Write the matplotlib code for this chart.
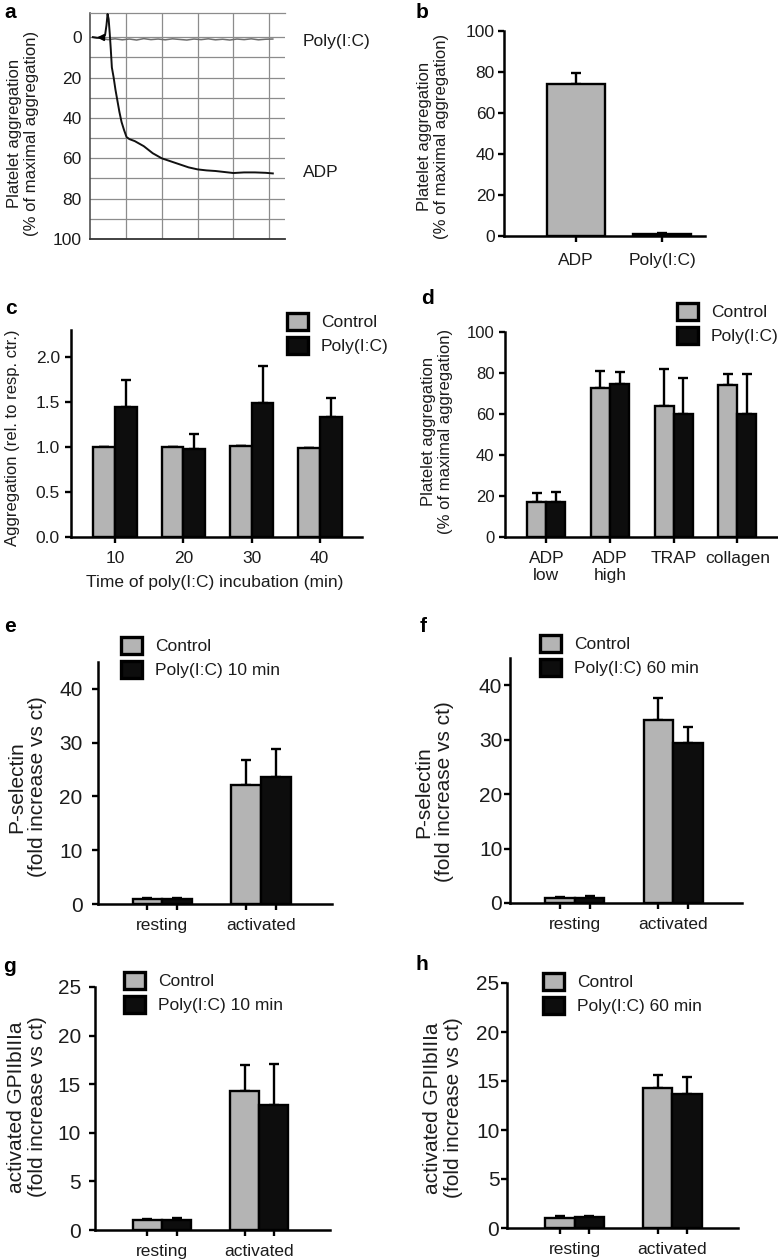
import matplotlib
matplotlib.use("Agg")
import matplotlib.pyplot as plt
import matplotlib.patches as mpatches
import numpy as np

plt.rcParams['font.family'] = ['Liberation Sans', 'DejaVu Sans']

W, H = 778, 1260
GREY = '#b4b4b4'
BLACK = '#0d0d0d'
TXT = '#1c1c1c'

# --- a: aggregation traces (time in grid units, % aggregation)
adp_t = [0.08, 0.2, 0.36, 0.42, 0.46, 0.49, 0.52, 0.55, 0.58, 0.61, 0.66, 0.71, 0.76, 0.82,
         0.88, 0.95, 1.02, 1.1, 1.25, 1.5, 1.75, 2.0, 2.25, 2.5, 2.75, 3.0, 3.25, 3.5, 3.75,
         4.0, 4.3, 4.6, 4.9, 5.1]
adp_v = [0, 0.3, 0, -1, -6, -11.5, -9, -2, 6, 15, 20, 26, 31, 37,
         42, 46, 49.5, 50.5, 51.5, 54, 57.5, 60, 61.5, 63, 64.5, 65.5, 66, 66.3, 66.8,
         67.3, 67, 67, 67.2, 67.5]
poly_t = [0.08, 0.3, 0.5, 0.7, 0.9, 1.1, 1.3, 1.5, 1.7, 1.9, 2.1, 2.3, 2.5, 2.7, 2.9,
          3.1, 3.3, 3.5, 3.7, 3.9, 4.1, 4.3, 4.5, 4.7, 4.9, 5.1]
poly_v = [0, 0.5, 1.2, 0.8, 1.3, 0.9, 1.4, 0.7, 1.2, 0.9, 1.3, 0.8, 1.1, 1.4, 0.9,
          1.2, 0.8, 1.3, 1.0, 1.4, 0.9, 1.2, 0.8, 1.3, 1.0, 0.9]

# --- b
b_labels = ['ADP', 'Poly(I:C)']
b_mean = [74, 1]
b_err = [5.3, 0.6]

# --- c
c_labels = ['10', '20', '30', '40']
c_ctrl = [1.0, 1.0, 1.01, 0.99]
c_ctrl_err = [0, 0, 0, 0]
c_poly = [1.44, 0.98, 1.49, 1.33]
c_poly_err = [0.30, 0.17, 0.41, 0.21]

# --- d
d_labels = ['ADP\nlow', 'ADP\nhigh', 'TRAP', 'collagen']
d_ctrl = [17, 72.8, 63.7, 74.3]
d_ctrl_err = [4.5, 8.2, 18.3, 5.0]
d_poly = [17, 74.8, 60, 60]
d_poly_err = [5, 5.7, 17.7, 19.7]

# --- e-h
state_labels = ['resting', 'activated']
e_ctrl, e_ctrl_err = [0.9, 22.2], [0.2, 4.5]
e_poly, e_poly_err = [1.0, 23.6], [0.2, 5.2]
f_ctrl, f_ctrl_err = [0.9, 33.6], [0.2, 4.1]
f_poly, f_poly_err = [1.0, 29.4], [0.2, 3.0]
g_ctrl, g_ctrl_err = [1.0, 14.3], [0.15, 2.7]
g_poly, g_poly_err = [1.05, 12.85], [0.15, 4.25]
h_ctrl, h_ctrl_err = [1.05, 14.3], [0.15, 1.35]
h_poly, h_poly_err = [1.1, 13.7], [0.1, 1.7]
pselectin_ticks = [0, 10, 20, 30, 40]
gp_ticks = [0, 5, 10, 15, 20, 25]

fig = plt.figure(figsize=(W / 100, H / 100), dpi=100)


def fx(x):
    return x / W


def fy(y):
    return 1 - y / H


def add_ax(l, t, r, b):
    return fig.add_axes([fx(l), fy(b), (r - l) / W, (b - t) / H])


def ylabel(x, y, s, size):
    fig.text(fx(x), fy(y), s, rotation=90, ha='center', va='center', fontsize=size,
             color=TXT, linespacing=1.15, multialignment='center')


def letter(x, y, s):
    fig.text(fx(x), fy(y), s, ha='center', va='center', fontsize=15, fontweight='bold', color='k')


def style_bar_ax(ax, ysize, ypad):
    ax.spines[['top', 'right']].set_visible(False)
    for s in ('left', 'bottom'):
        ax.spines[s].set_linewidth(1.8)
        ax.spines[s].set_color('k')
    ax.tick_params(axis='y', width=1.7, length=4, labelsize=ysize, pad=ypad, labelcolor=TXT)
    ax.tick_params(axis='x', width=1.7, length=4, labelsize=12.5, pad=6, labelcolor=TXT)


def legend(ax, x, y, poly_label):
    handles = [mpatches.Patch(facecolor=GREY, edgecolor='k', linewidth=2.4, label='Control'),
               mpatches.Patch(facecolor=BLACK, edgecolor='k', linewidth=2.4, label=poly_label)]
    ax.legend(handles=handles, loc='upper left', bbox_to_anchor=(fx(x), fy(y)),
              bbox_transform=fig.transFigure, frameon=False, fontsize=12.5, borderpad=0,
              borderaxespad=0, handlelength=1.2, handleheight=1.15, labelspacing=0.36,
              handletextpad=0.75, labelcolor=TXT)


def grouped(ax, ctrl, ctrl_err, poly, poly_err, w):
    x = np.arange(len(ctrl))
    ax.bar(x - w / 2, ctrl, w, color=GREY, edgecolor='k', linewidth=1.7, zorder=2)
    ax.bar(x + w / 2, poly, w, color=BLACK, edgecolor='k', linewidth=1.7, zorder=2)
    ax.errorbar(x - w / 2, ctrl, yerr=[np.zeros(len(ctrl)), ctrl_err], fmt='none', ecolor='k',
                elinewidth=1.7, capsize=3.5, capthick=1.7, zorder=1)
    ax.errorbar(x + w / 2, poly, yerr=[np.zeros(len(poly)), poly_err], fmt='none', ecolor='k',
                elinewidth=1.7, capsize=3.5, capthick=1.7, zorder=1)
    return x


# ---------------- a
ax = add_ax(90, 13, 285, 239)
ax.set_xlim(0, 5.44)
ax.set_ylim(100, -12)
for v in range(0, 100, 10):
    ax.axhline(v, color='#8c8c8c', lw=0.9, zorder=0)
for t in range(1, 6):
    ax.axvline(t, color='#8c8c8c', lw=0.9, zorder=0)
ax.plot(poly_t, poly_v, color='#6e6e6e', lw=1.1, zorder=2)
ax.plot(adp_t, adp_v, color='#111111', lw=1.4, zorder=3)
ax.plot(0.3, 0, marker='<', ms=5, color='k', zorder=4)
ax.spines['right'].set_visible(False)
ax.spines['top'].set_color('#8c8c8c')
ax.spines['top'].set_linewidth(0.9)
ax.spines['left'].set_color('#444444')
ax.spines['left'].set_linewidth(1.1)
ax.spines['bottom'].set_color('#333333')
ax.spines['bottom'].set_linewidth(1.3)
ax.set_yticks(range(0, 101, 20))
ax.set_xticks([])
ax.tick_params(axis='y', length=0, pad=6, labelsize=12.5, labelcolor=TXT)
ax.text(5.94, 2, 'Poly(I:C)', fontsize=12.5, color=TXT, va='center', ha='left')
ax.text(5.94, 67, 'ADP', fontsize=12.5, color=TXT, va='center', ha='left')
ylabel(23, 133, 'Platelet aggregation\n(% of maximal aggregation)', 12)
letter(10, 12, 'a')

# ---------------- b
ax = add_ax(504, 31, 705, 236)
style_bar_ax(ax, 12.5, 2.5)
xb = np.arange(len(b_mean))
ax.bar(xb, b_mean, 0.67, color=[GREY, BLACK], edgecolor='k', linewidth=1.7, zorder=2)
ax.errorbar(xb, b_mean, yerr=[np.zeros(2), b_err], fmt='none', ecolor='k', elinewidth=1.7,
            capsize=3.5, capthick=1.7, zorder=1)
ax.set_xlim(-0.84, 1.5)
ax.set_ylim(0, 100)
ax.set_yticks(range(0, 101, 20))
ax.set_xticks(xb, b_labels)
ax.tick_params(axis='x', pad=8, labelsize=12.5)
ylabel(433, 136, 'Platelet aggregation\n(% of maximal aggregation)', 12)
letter(422, 13, 'b')

# ---------------- c
ax = add_ax(71, 330, 362, 537)
style_bar_ax(ax, 12.5, 4)
xc = grouped(ax, c_ctrl, c_ctrl_err, c_poly, c_poly_err, 0.32)
ax.set_xlim(-0.65, 3.62)
ax.set_ylim(0, 2.3)
ax.set_yticks([0, 0.5, 1.0, 1.5, 2.0], ['0.0', '0.5', '1.0', '1.5', '2.0'])
ax.set_xticks(xc, c_labels)
ax.tick_params(axis='x', labelsize=12.5)
legend(ax, 287, 313, 'Poly(I:C)')
ylabel(13, 438, 'Aggregation (rel. to resp. ctr.)', 12)
fig.text(fx(215), fy(583), 'Time of poly(I:C) incubation (min)', ha='center', va='center',
         fontsize=12.5, color=TXT)
letter(11, 308, 'c')

# ---------------- d
ax = add_ax(505, 332, 778, 537)
style_bar_ax(ax, 12, 3.5)
xd = grouped(ax, d_ctrl, d_ctrl_err, d_poly, d_poly_err, 0.30)
ax.set_xlim(-0.65, 3.64)
ax.set_ylim(0, 100)
ax.set_yticks(range(0, 101, 20))
ax.set_xticks(xd, d_labels)
ax.tick_params(axis='x', labelsize=12.5)
legend(ax, 677, 303, 'Poly(I:C)')
ylabel(437, 431, 'Platelet aggregation\n(% of maximal aggregation)', 12)
letter(427, 299, 'd')


# ---------------- e-h
def state_panel(rect, ctrl, ctrl_err, poly, poly_err, ymax, yticks, ypad, xlim, leg_xy, poly_label):
    ax = add_ax(*rect)
    style_bar_ax(ax, 15, ypad)
    x = grouped(ax, ctrl, ctrl_err, poly, poly_err, 0.30)
    ax.set_xlim(*xlim)
    ax.set_ylim(0, ymax)
    ax.set_yticks(yticks)
    ax.set_xticks(np.concatenate([x - 0.15, x + 0.15]))
    ax.set_xticklabels([])
    ax.set_xticks(x, state_labels, minor=True)
    ax.tick_params(axis='x', which='minor', length=0, pad=10, labelsize=12.5, labelcolor=TXT)
    legend(ax, leg_xy[0], leg_xy[1], poly_label)
    return ax


state_panel((98, 662, 332, 904), e_ctrl, e_ctrl_err, e_poly, e_poly_err, 45, pselectin_ticks, 7,
            (-0.65, 1.72), (121, 637), 'Poly(I:C) 10 min')
ylabel(27, 787, 'P-selectin\n(fold increase vs ct)', 15)
letter(10, 626, 'e')

state_panel((510, 658, 742, 903), f_ctrl, f_ctrl_err, f_poly, f_poly_err, 45, pselectin_ticks, 1.5,
            (-0.66, 1.70), (540, 635), 'Poly(I:C) 60 min')
ylabel(434, 792, 'P-selectin\n(fold increase vs ct)', 15)
letter(423, 626, 'f')

state_panel((95, 987, 330, 1230), g_ctrl, g_ctrl_err, g_poly, g_poly_err, 25, gp_ticks, 6,
            (-0.69, 1.73), (124, 972), 'Poly(I:C) 10 min')
ylabel(27, 1107, 'activated GPIIbIIIa\n(fold increase vs ct)', 15)
letter(9, 967, 'g')

state_panel((507, 983, 738, 1228), h_ctrl, h_ctrl_err, h_poly, h_poly_err, 25, gp_ticks, 1.5,
            (-0.69, 1.67), (543, 973), 'Poly(I:C) 60 min')
ylabel(443, 1108, 'activated GPIIbIIIa\n(fold increase vs ct)', 15)
letter(422, 965, 'h')

fig.savefig('out.png', dpi=100)
